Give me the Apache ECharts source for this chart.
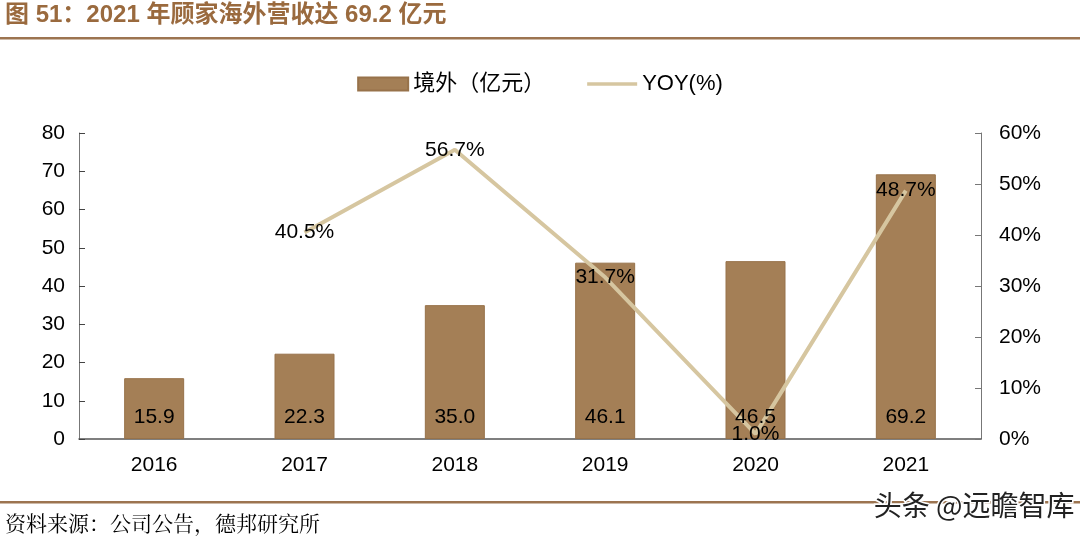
<!DOCTYPE html>
<html><head><meta charset="utf-8">
<script src="https://cdn.jsdelivr.net/npm/echarts@6/dist/echarts.min.js"></script>
<style>html,body{margin:0;padding:0;background:#fff}#c{width:1080px;height:539px}</style>
</head><body><div id="c"></div>
<script>
const years = ['2016','2017','2018','2019','2020','2021'];
const overseas = [15.9, 22.3, 35.0, 46.1, 46.5, 69.2];
const yoy = [null, 40.5, 56.7, 31.7, 1.0, 48.7];
const leftTicks = {min: 0, max: 80, interval: 10};
const rightTicks = {min: 0, max: 60, interval: 10};

const chart = echarts.init(document.getElementById('c'));
const F = '"Liberation Sans", Arial, sans-serif';
const CJK = '"Liberation Sans", "Noto Sans CJK SC", sans-serif';
chart.setOption({
  animation: false,
  textStyle: {fontFamily: F},
  grid: {left: 79, right: 99, top: 133, bottom: 100},
  legend: {
    top: 68, left: 'center', itemGap: 42,
    textStyle: {fontSize: 22, color: '#000', fontFamily: CJK},
    data: [
      {name: '境外（亿元）', icon: 'rect', itemStyle: {color: '#A47F56'}},
      {name: 'YOY(%)', icon: 'path://M0,0 L56,0 L56,4 L0,4 Z', itemStyle: {color: '#D6C6A0'}}
    ],
    itemWidth: 50, itemHeight: 13
  },
  xAxis: {
    type: 'category', data: years,
    axisLine: {lineStyle: {color: '#555', width: 1.5}},
    axisTick: {show: false},
    axisLabel: {fontSize: 21, color: '#000', margin: 16}
  },
  yAxis: [
    {type: 'value', ...leftTicks, splitLine: {show: false},
     axisLine: {show: true, lineStyle: {color: '#777'}},
     axisTick: {show: true, inside: true, length: 6, lineStyle: {color: '#444'}},
     axisLabel: {fontSize: 21, color: '#000', margin: 14}},
    {type: 'value', ...rightTicks, splitLine: {show: false},
     axisLine: {show: true, lineStyle: {color: '#777'}},
     axisTick: {show: true, inside: true, length: 6, lineStyle: {color: '#777'}},
     axisLabel: {fontSize: 21, color: '#000', margin: 18, formatter: '{value}%'}}
  ],
  series: [
    {name: '境外（亿元）', type: 'bar', data: overseas, barWidth: 60, z: 2,
     itemStyle: {color: '#A47F56', borderColor: '#97724A', borderWidth: 1}},
    {name: 'YOY(%)', type: 'line', yAxisIndex: 1, data: yoy, connectNulls: false,
     symbol: 'circle', symbolSize: 0.1, showSymbol: true, z: 5,
     lineStyle: {color: '#D6C6A0', width: 4}, itemStyle: {color: '#D6C6A0'},
     label: {show: true, position: 'inside', fontSize: 21, color: '#000',
       formatter: p => p.value.toFixed(1) + '%'}},
    {name: 'barLabels', type: 'bar', data: overseas, barWidth: 60, barGap: '-100%', z: 6,
     silent: true, itemStyle: {color: 'rgba(0,0,0,0)'},
     label: {show: true, position: 'insideBottom', distance: 11, fontSize: 21, color: '#000',
       formatter: p => p.value.toFixed(1)}}
  ],
  graphic: [
    {type: 'text', left: 5, top: 3, style: {text: '图 51：2021 年顾家海外营收达 69.2 亿元', fontSize: 24, fontWeight: 'bold', fill: '#9A6A3E', fontFamily: CJK}},
    {type: 'rect', left: 0, top: 37, shape: {width: 1080, height: 2.5}, style: {fill: '#9C7450'}},
    {type: 'rect', left: 0, top: 501, shape: {width: 1080, height: 2.5}, style: {fill: '#9C7450'}},
    {type: 'text', left: 5, top: 513, style: {text: '资料来源：公司公告，德邦研究所', fontSize: 21, fill: '#000', fontFamily: '"Noto Serif CJK SC", "Noto Sans CJK SC", serif'}},
    {type: 'text', right: 4, top: 490, style: {text: '头条 @远瞻智库', fontSize: 28, fill: '#222', stroke: '#fff', lineWidth: 3, fontFamily: '"Noto Sans CJK SC", sans-serif'}}
  ]
});
</script></body></html>
